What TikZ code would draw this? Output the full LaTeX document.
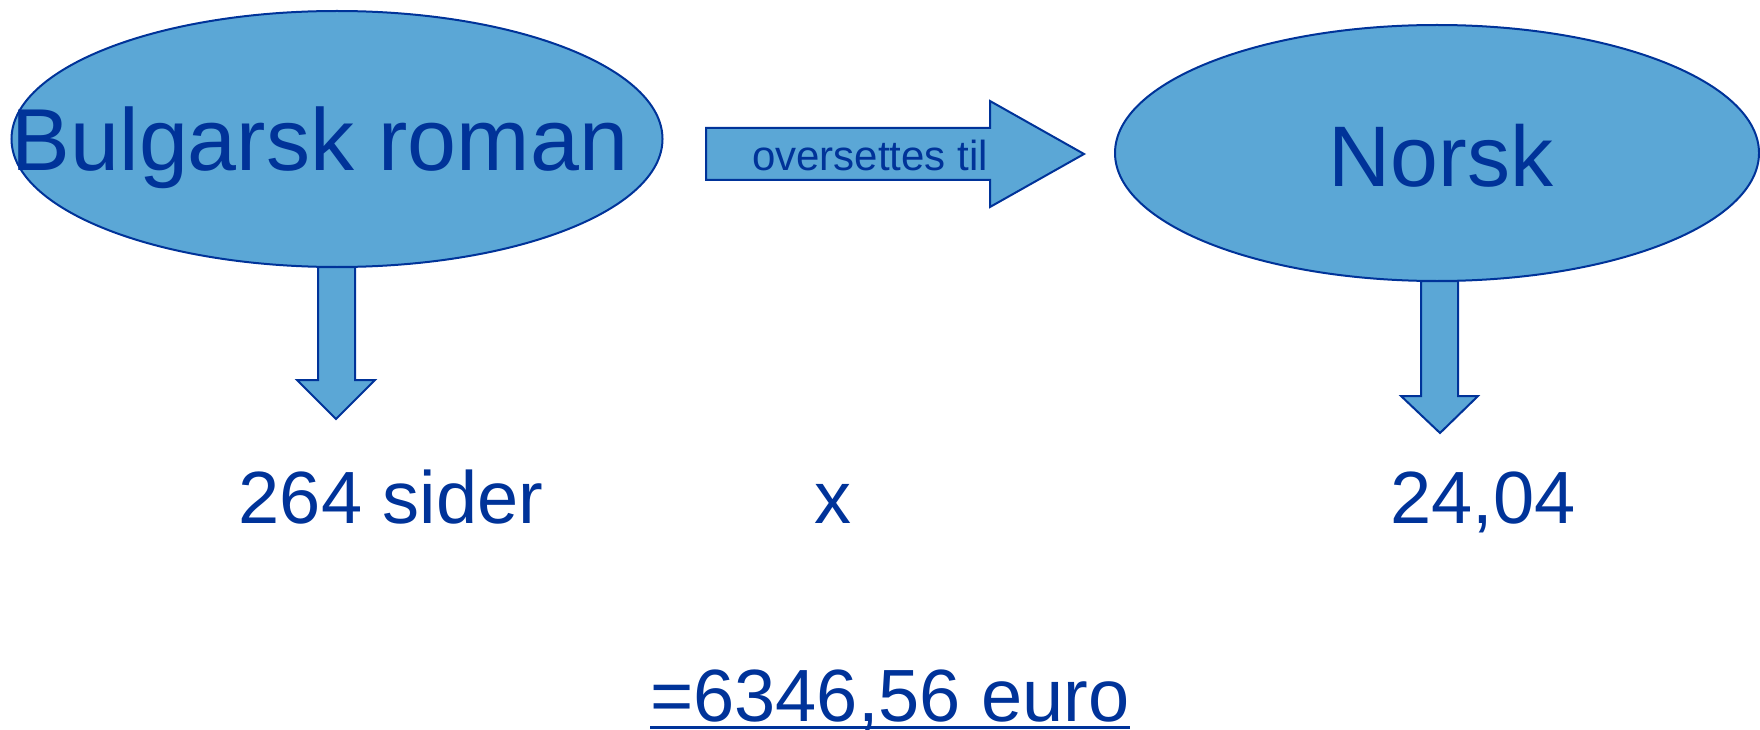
\documentclass[tikz,border=0pt]{standalone}
\usepackage{fontspec}
\setmainfont{Liberation Sans}
\usetikzlibrary{shapes.geometric}
\definecolor{fillblue}{RGB}{91,167,214}
\definecolor{inkblue}{RGB}{0,51,153}
\begin{document}
\begin{tikzpicture}[x=1pt,y=-1pt,
  blob/.style={ellipse,draw=inkblue,fill=fillblue,line width=2pt,inner sep=0pt},
  blockarrow/.style={draw=inkblue,fill=fillblue,line width=2pt,line join=miter},
  txt/.style={text=inkblue,inner sep=0pt,anchor=base}]
\useasboundingbox (0,0) rectangle (1760,730);
% ellipses
\node[blob,minimum width=651pt,minimum height=256pt] (bulg) at (337,139) {};
\node[blob,minimum width=644pt,minimum height=256pt] (norsk) at (1437,153) {};
\node[txt,font=\fontsize{88}{90}\selectfont] (bulgt) at (320,171) {Bulgarsk roman};
\node[txt,font=\fontsize{86}{90}\selectfont] (norskt) at (1441,186) {Norsk};
% right arrow
\draw[blockarrow] (706,128) -- (990,128) -- (990,101) -- (1084,154) -- (990,207) -- (990,180) -- (706,180) -- cycle;
\node[txt,font=\fontsize{42}{44}\selectfont] (over) at (870,171) {oversettes til};
% down arrows
\draw[blockarrow] (318,267) -- (355,267) -- (355,380) -- (375,380) -- (336,419) -- (297,380) -- (318,380) -- cycle;
\draw[blockarrow] (1421,281) -- (1458,281) -- (1458,396) -- (1478,396) -- (1440,433) -- (1401,396) -- (1421,396) -- cycle;
% values
\node[txt,font=\fontsize{74}{76}\selectfont] (sider) at (391,523) {264 sider};
\node[txt,font=\fontsize{74}{76}\selectfont] (times) at (833,523) {x};
\node[txt,font=\fontsize{74}{76}\selectfont] (pris) at (1483,523) {24,04};
\node[txt,font=\fontsize{74}{76}\selectfont] (sum) at (890,721) {=6346,56 euro};
\draw[inkblue,line width=3pt] (sum.west |- 0,727) -- (sum.east |- 0,727);
\end{tikzpicture}
\end{document}
